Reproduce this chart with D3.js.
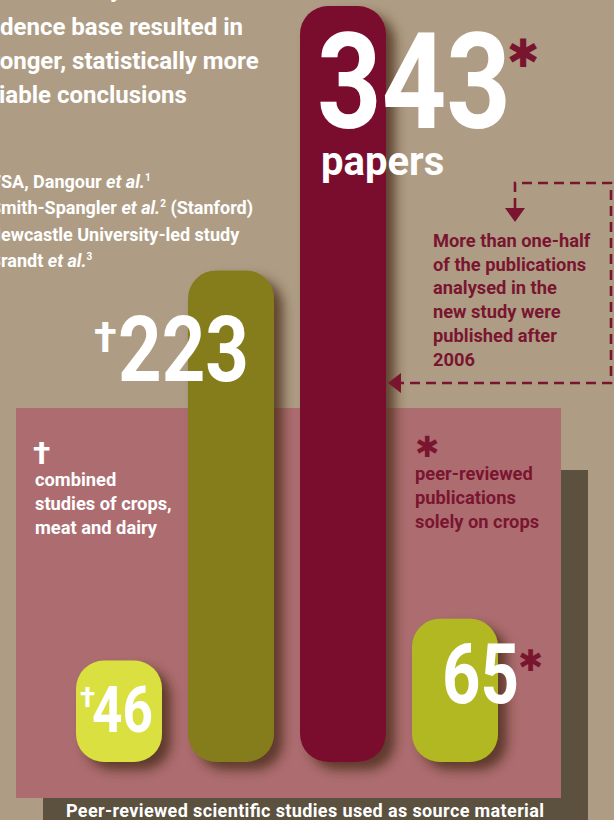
<!DOCTYPE html>
<html>
<head>
<meta charset="utf-8">
<script src="https://cdn.jsdelivr.net/npm/d3@7"></script>
<style>
  html, body { margin: 0; padding: 0; background: #ae9d84; }
  svg { display: block; font-family: Roboto, "Open Sans", sans-serif; font-weight: 700; }
</style>
</head>
<body>
<script>
// data --------------------------------------------
var studies = ['FSA, Dangour et al.', 'Smith-Spangler et al. (Stanford)', 'Newcastle University-led study', 'Brandt et al.'];
var counts = [46, 223, 343, 65];
var marks = ['\u2020', '\u2020', '\u2731', '\u2731'];   // dagger = crops, meat and dairy; asterisk = crops only
var introLines = ["The study's broader evi-", 'dence base resulted in', 'stronger, statistically more', 'reliable conclusions'];
var sourceLines = [
  [['FSA, Dangour ', 0], ['et al.', 1], ['1', 2]],
  [['Smith-Spangler ', 0], ['et al.', 1], ['2', 2], [' (Stanford)', 0]],
  [['Newcastle University-led study', 0]],
  [['Brandt ', 0], ['et al.', 1], ['3', 2]]
];
var noteLines = ['More than one-half', 'of the publications', 'analysed in the', 'new study were', 'published after', '2006'];
var daggerLegend = ['combined', 'studies of crops,', 'meat and dairy'];
var starLegend = ['peer-reviewed', 'publications', 'solely on crops'];
var caption = 'Peer-reviewed scientific studies used as source material';

// layout ------------------------------------------
var W = 614, H = 820;
var colors = ['#dae03f', '#857b1f', '#7a112d', '#b2b820'];
var maroon = '#7a1530';
var starFont = '"DejaVu Sans", sans-serif';

var svg = d3.select('body').append('svg')
  .attr('width', W)
  .attr('height', H);

var defs = svg.append('defs');
var shadow = defs.append('filter').attr('id', 'shadow')
  .attr('x', '-20%').attr('y', '-20%').attr('width', '160%').attr('height', '160%');
shadow.append('feDropShadow')
  .attr('dx', 9).attr('dy', 8)
  .attr('stdDeviation', 6)
  .attr('flood-color', '#4b2a16')
  .attr('flood-opacity', 0.8);

svg.append('rect').attr('width', W).attr('height', H).attr('fill', '#ae9d84');
svg.append('rect').attr('x', 43).attr('y', 470).attr('width', 545).attr('height', 350).attr('fill', '#5c513f');
svg.append('rect').attr('x', 16).attr('y', 408).attr('width', 545).attr('height', 390).attr('fill', '#ad6d70');

var x = d3.scaleBand()
  .domain(studies)
  .range([76, 498])
  .paddingInner(26 / 112);

var y = d3.scaleLinear()
  .domain([0, 343])
  .range([762, 6]);

var color = d3.scaleOrdinal().domain(studies).range(colors);

// bars
svg.append('g').selectAll('rect')
  .data(studies)
  .enter()
  .append('rect')
  .attr('x', function(d) { return x(d); })
  .attr('y', function(d, i) { return y(counts[i]); })
  .attr('width', x.bandwidth())
  .attr('height', function(d, i) { return y(0) - y(counts[i]); })
  .attr('rx', 28)
  .attr('fill', function(d) { return color(d); })
  .attr('filter', 'url(#shadow)');

// helper: place a text line so that the text after `prefix` starts at xTarget
var placeLine = function(g, prefix, xTarget, yPos) {
  var tmp = g.append('text').text(prefix);
  var w = prefix.length ? tmp.node().getComputedTextLength() : 0;
  tmp.remove();
  return g.append('text').attr('x', xTarget - w).attr('y', yPos);
};

// intro text (cut at left edge)
var intro = svg.append('g').attr('fill', '#fff').attr('font-size', 24);
var introPrefix = ['The stud', '', 'str', 'rel'];
var introTarget = [110, 0, 0, -1];
var introY = [-3, 35, 69, 103];
introLines.forEach(function(line, i) {
  placeLine(intro, introPrefix[i], introTarget[i], introY[i]).text(line);
});

// sources list
var src = svg.append('g').attr('fill', '#fff').attr('font-size', 18);
sourceLines.forEach(function(parts, i) {
  var t = placeLine(src, parts[0][0].slice(0, 1), 1, 188 + i * 26.3);
  parts.forEach(function(p) {
    var ts = t.append('tspan').text(p[0]);
    if (p[1] === 1) ts.attr('font-style', 'italic');
    if (p[1] === 2) ts.attr('font-size', 10).attr('baseline-shift', '7');
  });
});

// annotation
var note = svg.append('g');
note.append('path')
  .attr('d', 'M515,208 L515,183 L611,183 L611,383 L398,383')
  .attr('fill', 'none')
  .attr('stroke', maroon)
  .attr('stroke-width', 2.6)
  .attr('stroke-dasharray', '10,6');
note.append('path').attr('d', 'M505,208 L525,208 L515,222 Z').attr('fill', maroon);
note.append('path').attr('d', 'M388,383 L401,373 L401,393 Z').attr('fill', maroon);
note.append('g').attr('fill', maroon).attr('font-size', 18.3)
  .selectAll('text')
  .data(noteLines)
  .enter()
  .append('text')
  .attr('x', 433)
  .attr('y', function(d, i) { return 247 + i * 23.7; })
  .text(function(d) { return d; });

// legend
var leg = svg.append('g').attr('font-size', 18.3);
leg.append('text').attr('x', 33).attr('y', 464).attr('fill', '#fff').attr('font-size', 32).text(marks[0]);
leg.selectAll('.dl')
  .data(daggerLegend)
  .enter()
  .append('text')
  .attr('class', 'dl')
  .attr('x', 35)
  .attr('y', function(d, i) { return 486 + i * 24; })
  .attr('fill', '#fff')
  .text(function(d) { return d; });
leg.append('text').attr('x', 415).attr('y', 457)
  .attr('fill', maroon).attr('font-size', 29).attr('font-family', starFont)
  .text(marks[2]);
leg.selectAll('.sl')
  .data(starLegend)
  .enter()
  .append('text')
  .attr('class', 'sl')
  .attr('x', 415)
  .attr('y', function(d, i) { return 480 + i * 24; })
  .attr('fill', maroon)
  .text(function(d) { return d; });

// value labels: offsets relative to each bar
var labelLayout = [
  { dx: 16, dy: 71, size: 65, len: 61, mdx: 4, mdy: 46, msize: 28 },
  { dx: -70, dy: 111, size: 90, len: 131, mdx: -94, mdy: 82, msize: 42 },
  { dx: 17, dy: 122, size: 134, len: 194, mdx: 207, mdy: 61, msize: 39 },
  { dx: 30, dy: 84, size: 83, len: 77, mdx: 106, mdy: 52, msize: 30 }
];
var labels = svg.append('g');
studies.forEach(function(s, i) {
  var L = labelLayout[i];
  var bx = x(s), by = y(counts[i]);
  labels.append('text')
    .attr('x', bx + L.dx)
    .attr('y', by + L.dy)
    .attr('font-size', L.size)
    .attr('fill', '#fff')
    .attr('textLength', L.len)
    .attr('lengthAdjust', 'spacingAndGlyphs')
    .text(counts[i]);
  var m = labels.append('text')
    .attr('x', bx + L.mdx)
    .attr('y', by + L.mdy)
    .attr('font-size', L.msize)
    .attr('fill', marks[i] === '\u2731' ? maroon : '#fff')
    .text(marks[i]);
  if (marks[i] === '\u2731') m.attr('font-family', starFont);
});

// "papers"
svg.append('text')
  .attr('x', x(studies[2]) + 21)
  .attr('y', y(343) + 169)
  .attr('font-size', 40)
  .attr('fill', '#fff')
  .text('papers');

// caption
svg.append('text')
  .attr('x', 305)
  .attr('y', 817)
  .attr('text-anchor', 'middle')
  .attr('font-size', 18)
  .attr('textLength', 478)
  .attr('fill', '#fff')
  .text(caption);
</script>
</body>
</html>
